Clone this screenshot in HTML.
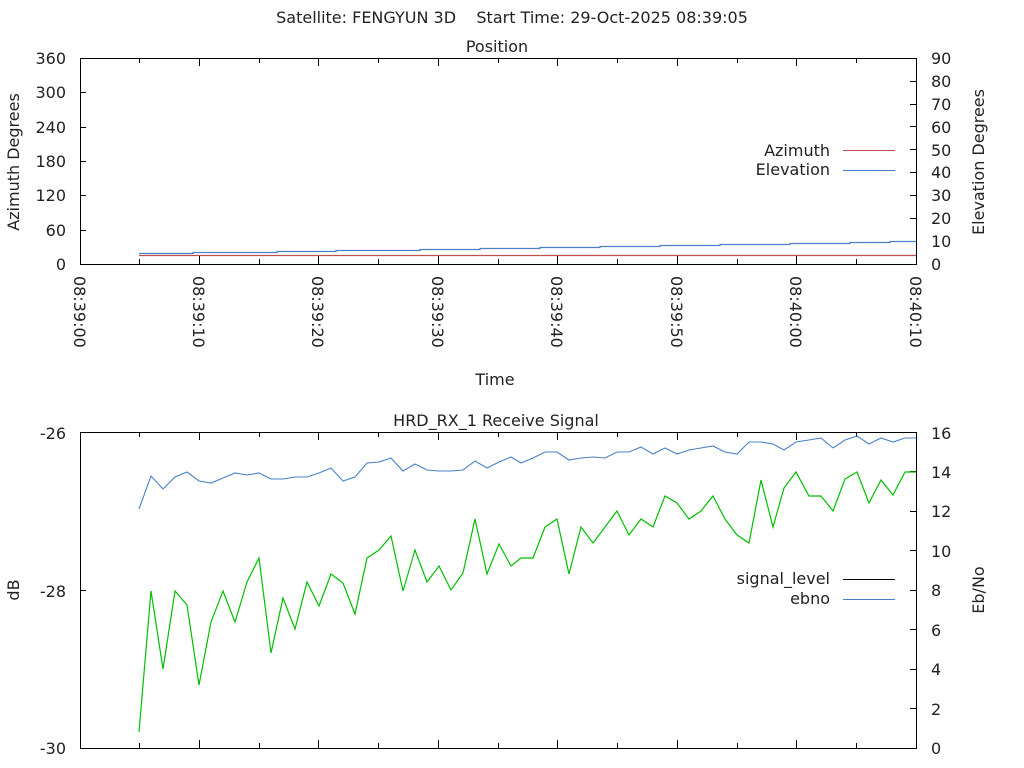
<!DOCTYPE html>
<html><head><meta charset="utf-8"><style>
html,body{margin:0;padding:0;background:#fff;}
svg{display:block;font-family:"DejaVu Sans","Liberation Sans",sans-serif;font-size:16px;fill:#222;}
</style></head><body>
<svg width="1024" height="768" viewBox="0 0 1024 768" xmlns="http://www.w3.org/2000/svg">
<text x="512" y="23" text-anchor="middle" xml:space="preserve">Satellite: FENGYUN 3D    Start Time: 29-Oct-2025 08:39:05</text>
<text x="497" y="52" text-anchor="middle">Position</text>
<g stroke="#000" stroke-width="1" fill="none">
<rect x="80.5" y="58.5" width="836" height="206"/>
<path d="M80 230.5h6M80 195.5h6M80 161.5h6M80 127.5h6M80 92.5h6M910 241.5h6M910 218.5h6M910 195.5h6M910 172.5h6M910 149.5h6M910 126.5h6M910 104.5h6M910 81.5h6"/>
<path d="M139.5 264v-5M199.5 264v-8M259.5 264v-5M318.5 264v-8M378.5 264v-5M438.5 264v-8M498.5 264v-5M557.5 264v-8M617.5 264v-5M677.5 264v-8M737.5 264v-5M796.5 264v-8M856.5 264v-5
M139.5 58v5M199.5 58v8M259.5 58v5M318.5 58v8M378.5 58v5M438.5 58v8M498.5 58v5M557.5 58v8M617.5 58v5M677.5 58v8M737.5 58v5M796.5 58v8M856.5 58v5"/>
</g>
<g text-anchor="end">
<text x="66" y="64">360</text><text x="66" y="98">300</text><text x="66" y="133">240</text><text x="66" y="167">180</text><text x="66" y="201">120</text><text x="66" y="236">60</text><text x="66" y="270">0</text>
</g>
<g>
<text x="931" y="64">90</text><text x="931" y="87">80</text><text x="931" y="110">70</text><text x="931" y="133">60</text><text x="931" y="156">50</text><text x="931" y="178">40</text><text x="931" y="201">30</text><text x="931" y="224">20</text><text x="931" y="247">10</text><text x="931" y="270">0</text>
</g>
<text transform="translate(19,162) rotate(-90)" text-anchor="middle">Azimuth Degrees</text>
<text transform="translate(984,162) rotate(-90)" text-anchor="middle">Elevation Degrees</text>
<g>
<text transform="translate(74,276) rotate(90)">08:39:00</text>
<text transform="translate(193,276) rotate(90)">08:39:10</text>
<text transform="translate(312,276) rotate(90)">08:39:20</text>
<text transform="translate(432,276) rotate(90)">08:39:30</text>
<text transform="translate(551,276) rotate(90)">08:39:40</text>
<text transform="translate(671,276) rotate(90)">08:39:50</text>
<text transform="translate(790,276) rotate(90)">08:40:00</text>
<text transform="translate(910,276) rotate(90)">08:40:10</text>
</g>
<text x="495" y="385" text-anchor="middle">Time</text>
<text x="830" y="156" text-anchor="end">Azimuth</text>
<text x="830" y="175" text-anchor="end">Elevation</text>
<path d="M843 150.5h52" stroke="#c05050" stroke-width="1"/>
<path d="M843 170.5h52" stroke="#4a80c8" stroke-width="1"/>
<path d="M139 255.5H916" stroke="#c05050" stroke-width="1.2" fill="none"/>
<path d="M139 253.5H193V252.5H277V251.5H336V250.5H420V249.5H480V248.5H540V247.5H600V246.5H660V245.5H720V244.5H790V243.5H850V242.5H890V241.5H916" stroke="#4a80c8" stroke-width="1.2" fill="none"/>

<text x="496" y="426" text-anchor="middle">HRD_RX_1 Receive Signal</text>
<g stroke="#000" stroke-width="1" fill="none">
<rect x="80.5" y="432.5" width="836" height="316"/>
<path d="M80 590.5h6M910 708.5h6M910 669.5h6M910 629.5h6M910 590.5h6M910 550.5h6M910 511.5h6M910 471.5h6"/>
<path d="M139.5 748v-5M199.5 748v-8M259.5 748v-5M318.5 748v-8M378.5 748v-5M438.5 748v-8M498.5 748v-5M557.5 748v-8M617.5 748v-5M677.5 748v-8M737.5 748v-5M796.5 748v-8M856.5 748v-5
M139.5 432v5M199.5 432v8M259.5 432v5M318.5 432v8M378.5 432v5M438.5 432v8M498.5 432v5M557.5 432v8M617.5 432v5M677.5 432v8M737.5 432v5M796.5 432v8M856.5 432v5"/>
</g>
<g text-anchor="end">
<text x="66" y="439">-26</text><text x="66" y="597">-28</text><text x="66" y="754">-30</text>
</g>
<g>
<text x="931" y="439">16</text><text x="931" y="478">14</text><text x="931" y="517">12</text><text x="931" y="557">10</text><text x="931" y="596">8</text><text x="931" y="636">6</text><text x="931" y="675">4</text><text x="931" y="715">2</text><text x="931" y="754">0</text>
</g>
<text transform="translate(19,590) rotate(-90)" text-anchor="middle">dB</text>
<text transform="translate(984,590) rotate(-90)" text-anchor="middle">Eb/No</text>
<text x="830" y="584" text-anchor="end">signal_level</text>
<text x="830" y="604" text-anchor="end">ebno</text>
<path d="M843 579.5h52" stroke="#000" stroke-width="1"/>
<path d="M843 599.5h52" stroke="#4a80c8" stroke-width="1"/>
<polyline fill="none" stroke="#00c000" stroke-width="1.2" points="139,732 151,591 163,669 175,591 187,605 199,685 211,622 223,591 235,622 247,582 259,558 271,653 283,598 295,629 307,582 319,606 331,574 343,583 355,614 367,558 379,550 391,536 403,591 415,550 427,582 439,566 451,590 463,573 475,519 487,574 499,544 511,566 521,558 533,558 545,527 557,519 569,574 581,527 593,543 605,527 617,511 629,535 641,519 653,527 665,496 677,503 689,519 701,511 713,496 725,519 737,535 749,543 761,480 773,527 784,488 796,472 809,496 821,496 833,511 845,479 857,472 869,503 881,480 893,495 905,472 916,472"/>
<polyline fill="none" stroke="#4a80c8" stroke-width="1.1" points="139,509 151,476 163,489 175,477 187,472 199,481 211,483 223,478 235,473 247,475 259,473 271,479 283,479 295,477 307,477 319,473 331,468 343,481 355,477 367,463 379,462 391,458 403,471 415,464 427,470 439,471 451,471 463,470 475,461 487,468 499,462 511,457 521,463 533,458 545,452 557,452 569,460 581,458 593,457 605,458 617,452 629,452 641,447 653,454 665,448 677,454 689,450 701,448 713,446 725,452 737,454 749,442 761,442 773,444 784,450 796,442 809,440 821,438 833,448 845,440 857,436 869,444 881,438 893,442 905,438 916,438"/>
</svg>
</body></html>
